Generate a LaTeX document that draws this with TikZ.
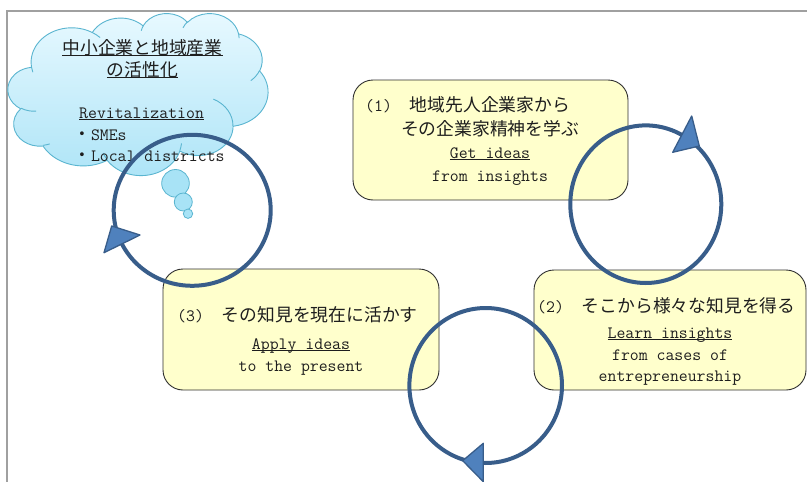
\documentclass[tikz,border=0pt]{standalone}
\usepackage{fontspec}
\newfontfamily\jp{Noto Sans CJK JP}
\definecolor{textc}{HTML}{1E1E1E}
\definecolor{framec}{HTML}{A0A0A0}
\definecolor{cloudtop}{HTML}{E8F9FF}
\definecolor{cloudbot}{HTML}{ADE4F7}
\definecolor{cloudline}{HTML}{5AB5D0}
\definecolor{bubblec}{HTML}{A8E3F6}
\definecolor{boxfill}{HTML}{FFFFCC}
\definecolor{boxline}{HTML}{303030}
\definecolor{loopc}{HTML}{385D8A}
\definecolor{headc}{HTML}{4F81BD}
\newcommand\jtext[1]{{\fontsize{17.8}{20}\selectfont\jp #1}}
\newcommand\ulx[1]{\setbox0\hbox{#1}\rlap{\rule[-2.2pt]{\wd0}{1pt}}\box0}
\begin{document}
\begin{tikzpicture}[x=1pt,y=-1pt,
  txt/.style={inner sep=0pt, text=textc, font=\fontsize{17.3}{20}\selectfont\ttfamily},
  boxshape/.style={draw=boxline, line width=0.9pt, fill=boxfill, rounded corners=20pt, inner sep=0pt},
  loopline/.style={draw=loopc, line width=4pt},
  headshape/.style={fill=headc, draw=loopc, line width=1.3pt, line join=round},
  bubble/.style={fill=bubblec, draw=cloudline, line width=0.8pt},
  cloudfill/.style={top color=cloudtop, bottom color=cloudbot, draw=cloudline, line width=0.9pt},
  cloudinner/.style={draw=cloudline, line width=0.9pt}]
\useasboundingbox (0,0) rectangle (807,482);
\fill[white] (0,0) rectangle (807,482);
% frame
\coordinate (f1) at (7,482);
\coordinate (f2) at (7,11);
\coordinate (f3) at (807,11);
\draw[framec, line width=1.5pt] (f1) -- (f2) -- (f3);
% cloud
\begin{scope}[shift={(8,13)}, xscale=0.0601852, yscale=-0.0375]
\path[cloudfill] (390pt,1437pt)
 \foreach \w/\h/\s/\d in {675.3/919.0/-190.4875/123.7805, 533.3/726.7/-144.1024/89.9452,
   436.5/594.5/-145.8079/99.7230, 485.7/659.5/-130.9861/117.2417, 533.3/727.3/-78.7089/109.0269,
   677.5/922.0/-46.2673/130.2690, 578.5/786.7/0.625/114.0333, 675.2/921.5/22.4516/115.1726,
   772.0/1054.3/66.2426/75.7110, 436.0/591.8/-274.942/146.7356, 434.5/594.5/-246.8285/152.5189}
 { arc[start angle={atan2(\w*sin(\s),\h*cos(\s))},
       delta angle={mod(atan2(\w*sin(\s+\d),\h*cos(\s+\d))-atan2(\w*sin(\s),\h*cos(\s))+720,360)},
       x radius=\w pt, y radius=\h pt] } -- cycle;
\foreach \x/\y/\w/\h/\s/\d in {469.3/2617.7/434.5/594.5/86.742/26.430,
   692.8/3489.9/436.0/591.8/73.610/11.447, 1647.8/3909.0/675.2/921.5/137.624/14.081,
   2882.7/3475.1/675.2/921.5/6.453/15.998, 3412.9/2295.4/578.5/786.7/-70.292/70.917,
   4179.8/1535.4/533.3/727.3/30.318/27.752, 3832.4/542.6/485.7/659.5/-13.744/14.859,
   2907.8/395.2/485.7/659.5/-149.181/18.195, 2214.1/472.0/436.5/594.5/-163.494/17.686,
   1400.0/519.2/675.3/919.0/-66.707/12.319, 412.7/1578.9/675.3/919.0/157.654/11.858}
 { \draw[cloudinner] (\x pt,\y pt) arc[start angle={atan2(\w*sin(\s),\h*cos(\s))},
       delta angle={mod(atan2(\w*sin(\s+\d),\h*cos(\s+\d))-atan2(\w*sin(\s),\h*cos(\s))+720,360)},
       x radius=\w pt, y radius=\h pt]; }
\end{scope}
% thought bubbles
\draw[bubble] (175.5,183.3) circle[radius=13.8pt];
\draw[bubble] (183.3,202) circle[radius=9pt];
\draw[bubble] (188,213.7) circle[radius=4.7pt];
% cloud text
\node[txt, anchor=base] (c1) at (142.5,54) {\ulx{\jtext{中小企業と地域産業}}};
\node[txt, anchor=base] (c2) at (142.5,76) {\ulx{\jtext{の活性化}}};
\node[txt, anchor=base west] (c3) at (79,118) {\ulx{Revitalization}};
\node[txt, anchor=base west] (c4) at (73,140) {\jtext{・}SMEs};
\node[txt, anchor=base west] (c5) at (73,161) {\jtext{・}Local districts};
% boxes
\node[boxshape, minimum width=275pt, minimum height=120pt] (b1) at (490.5,140) {};
\node[boxshape, minimum width=276pt, minimum height=121pt] (b3) at (301,329.5) {};
\node[boxshape, minimum width=272pt, minimum height=120pt] (b2) at (670,330) {};
% box 1 text
\node[txt, anchor=base west] (b1a) at (365,111) {(1)\hspace{18pt}\jtext{地域先人企業家から}};
\node[txt, anchor=base] (b1b) at (490,135) {\jtext{その企業家精神を学ぶ}};
\node[txt, anchor=base] (b1c) at (490,158) {\ulx{Get ideas}};
\node[txt, anchor=base] (b1d) at (490,181) {from insights};
% box 2 text
\node[txt, anchor=base west] (b2a) at (537,312) {(2)\hspace{18pt}\jtext{そこから様々な知見を得る}};
\node[txt, anchor=base] (b2b) at (670,338) {\ulx{Learn insights}};
\node[txt, anchor=base] (b2c) at (670,360) {from cases of};
\node[txt, anchor=base] (b2d) at (670,381) {entrepreneurship};
% box 3 text
\node[txt, anchor=base west] (b3a) at (177,321) {(3)\hspace{18pt}\jtext{その知見を現在に活かす}};
\node[txt, anchor=base] (b3b) at (301,349) {\ulx{Apply ideas}};
\node[txt, anchor=base] (b3c) at (301,371) {to the present};
% loops
\draw[loopline] (192.2,210.3) ellipse[x radius=78.5pt, y radius=75.5pt];
\draw[loopline] (645.8,204.2) ellipse[x radius=75.5pt, y radius=78.8pt];
\draw[loopline] (485.7,385.5) ellipse[x radius=76.3pt, y radius=77.5pt];
% arrow heads
\coordinate (ha1) at (111.7,226); \coordinate (ha2) at (140,235); \coordinate (ha3) at (104,252.7);
\coordinate (hb1) at (691.7,116); \coordinate (hb2) at (699.3,146); \coordinate (hb3) at (672.7,152.3);
\coordinate (hc1) at (483.3,443.3); \coordinate (hc2) at (483.3,481.7); \coordinate (hc3) at (462.7,460.7);
\draw[headshape] (ha1) -- (ha2) -- (ha3) -- cycle;
\draw[headshape] (hb1) -- (hb2) -- (hb3) -- cycle;
\draw[headshape] (hc1) -- (hc2) -- (hc3) -- cycle;
\end{tikzpicture}
\end{document}
